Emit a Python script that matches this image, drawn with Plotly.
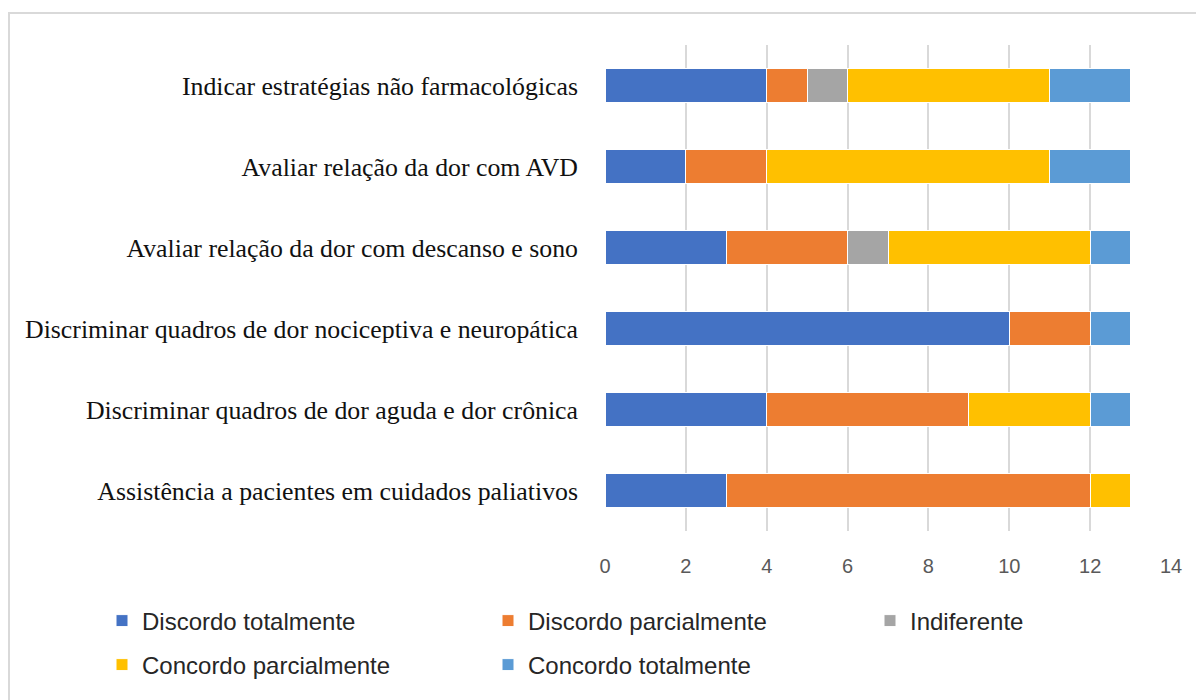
import plotly.graph_objects as go

categories = [
    "Assistência a pacientes em cuidados paliativos",
    "Discriminar quadros de dor aguda e dor crônica",
    "Discriminar quadros de dor nociceptiva e neuropática",
    "Avaliar relação da dor com descanso e sono",
    "Avaliar relação da dor com AVD",
    "Indicar estratégias não farmacológicas",
]
series_names = ["Discordo totalmente", "Discordo parcialmente", "Indiferente",
                "Concordo parcialmente", "Concordo totalmente"]
discordo_totalmente = [3, 4, 10, 3, 2, 4]
discordo_parcialmente = [9, 5, 2, 3, 2, 1]
indiferente = [0, 0, 0, 1, 0, 1]
concordo_parcialmente = [1, 3, 0, 5, 7, 5]
concordo_totalmente = [0, 1, 1, 1, 2, 2]
colors = ["#4472C4", "#ED7D31", "#A5A5A5", "#FFC000", "#5B9BD5"]
x_ticks = [0, 2, 4, 6, 8, 10, 12, 14]

values = [discordo_totalmente, discordo_parcialmente, indiferente,
          concordo_parcialmente, concordo_totalmente]

# page body has an 8px offset
OFF = 8
W, H = 1204 - OFF, 700 - OFF
L, R, T, B = 605 - OFF, 33, 45 - OFF, 169
pw, ph = W - L - R, H - T - B

def py(screen_y):
    return -((screen_y - OFF) - (H - B)) / ph

def px(screen_x):
    return ((screen_x - OFF) - L) / pw

# legend slot (screen x of legend left, screen y of row centre) per series
legend_slots = [(102, 621), (488, 621), (870, 621), (102, 665), (488, 665)]
legend_ids = ["legend", "legend2", "legend3", "legend4", "legend5"]

fig = go.Figure()
for name, vals, col, lg in zip(series_names, values, colors, legend_ids):
    fig.add_trace(go.Bar(
        y=categories, x=vals, name=name, orientation="h",
        marker=dict(color=col, line=dict(color="white", width=1)),
        legend=lg,
    ))

legend_font = dict(family="Liberation Sans, Arial", size=24, color="#262626")
legend_layout = {}
for lg, (sx, sy) in zip(legend_ids, legend_slots):
    legend_layout[lg] = dict(
        orientation="h", xanchor="left", yanchor="middle",
        x=px(sx), y=py(sy), font=legend_font,
        itemclick=False, bgcolor="rgba(0,0,0,0)",
    )

fig.update_layout(
    width=W, height=H,
    barmode="stack", bargap=0.59,
    plot_bgcolor="white", paper_bgcolor="white",
    margin=dict(l=L, r=R, t=T, b=B),
    showlegend=True,
    xaxis=dict(
        range=[0, 14], tickvals=x_ticks, showgrid=True,
        gridcolor="#D9D9D9", gridwidth=2, zeroline=False,
        showline=False, ticks="",
        tickfont=dict(family="Liberation Sans, Arial", size=20, color="#595959"),
        ticklabelstandoff=21,
    ),
    yaxis=dict(
        showgrid=False, showline=False, ticks="",
        tickfont=dict(family="Liberation Serif, Times New Roman", size=25.8, color="#111111"),
        ticklabelstandoff=26,
        categoryorder="array", categoryarray=categories,
    ),
    shapes=[dict(
        type="rect", xref="paper", yref="paper",
        x0=px(OFF + 1), x1=px(1215),
        y0=py(715), y1=py(13),
        line=dict(color="#D9D9D9", width=2), layer="below",
    )],
    **legend_layout,
)

fig.write_html("out.html")
